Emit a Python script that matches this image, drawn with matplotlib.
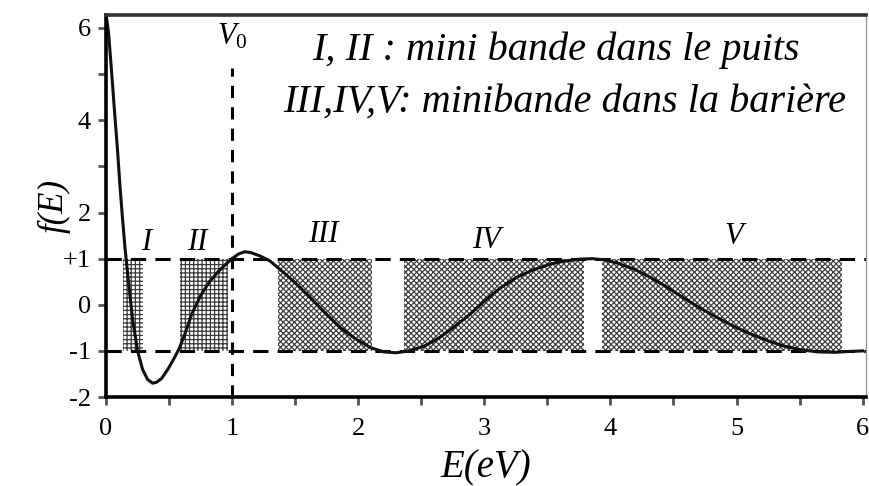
import matplotlib.pyplot as plt

plt.rcParams['font.family'] = ['Liberation Serif', 'DejaVu Serif']
plt.rcParams['mathtext.fontset'] = 'custom'
plt.rcParams['mathtext.rm'] = 'Liberation Serif'
plt.rcParams['mathtext.it'] = 'Liberation Serif:italic'
plt.rcParams['hatch.linewidth'] = 0.9

# f(E)
E = [0.0, 0.02, 0.04, 0.07, 0.09, 0.11, 0.13, 0.15, 0.18, 0.21, 0.25, 0.29,
     0.33, 0.37, 0.40, 0.44, 0.49, 0.54, 0.58, 0.63, 0.68, 0.75, 0.82, 0.89,
     0.95, 1.00, 1.05, 1.10, 1.15, 1.22, 1.30, 1.40, 1.50, 1.62, 1.74, 1.86,
     1.98, 2.10, 2.20, 2.30, 2.40, 2.52, 2.64, 2.76, 2.88, 3.00, 3.13, 3.26,
     3.39, 3.52, 3.64, 3.76, 3.86, 3.96, 4.06, 4.19, 4.32, 4.45, 4.58, 4.71,
     4.85, 4.98, 5.11, 5.24, 5.37, 5.50, 5.64, 5.78, 5.90, 6.0]
f = [6.3, 5.9, 5.2, 4.1, 3.4, 2.6, 1.9, 1.25, 0.45, -0.3, -1.0, -1.4,
     -1.62, -1.7, -1.68, -1.6, -1.4, -1.16, -0.95, -0.6, -0.2, 0.2, 0.5, 0.72,
     0.88, 1.0, 1.1, 1.15, 1.13, 1.06, 0.95, 0.72, 0.48, 0.16, -0.18, -0.5,
     -0.74, -0.93, -1.02, -1.04, -1.0, -0.9, -0.72, -0.48, -0.22, 0.08, 0.37, 0.6,
     0.76, 0.88, 0.95, 0.99, 1.0, 0.97, 0.9, 0.77, 0.59, 0.38, 0.15, -0.07,
     -0.28, -0.47, -0.63, -0.77, -0.89, -0.97, -1.02, -1.03, -1.01, -1.0]

# allowed minibands: (start, end) in eV
well_bands = [(0.135, 0.29), (0.59, 0.97)]
barrier_bands = [(1.36, 2.11), (2.36, 3.79), (3.93, 5.84)]
band_names = ['I', 'II', 'III', 'IV', 'V']
name_x = [0.32, 0.72, 1.72, 3.02, 4.98]
name_y = [1.35, 1.35, 1.52, 1.4, 1.48]

V0 = 1.0

fig = plt.figure(figsize=(8.69, 4.86), dpi=100)
ax = fig.add_axes([0.122, 0.183, 0.875, 0.786])

for a, b in well_bands:
    ax.fill_between([a, b], -1, 1, facecolor='white', edgecolor='#3a3a3a',
                    hatch='++++', linewidth=0)
for a, b in barrier_bands:
    ax.fill_between([a, b], -1, 1, facecolor='white', edgecolor='#404040',
                    hatch='xxxxxx', linewidth=0)

ax.plot([0, 6.03], [1, 1], color='black', lw=2.2, ls=(0, (5, 3)))
ax.plot([0, 6.03], [-1, -1], color='black', lw=2.2, ls=(0, (5, 3)))
ax.plot([V0, V0], [-2, 5.13], color='black', lw=2.2, ls=(0, (4, 3)))

ax.plot(E, f, color='#111111', lw=2.2)

for name, x, y in zip(band_names, name_x, name_y):
    ax.text(x, y, name, style='italic', fontsize=22, ha='center', va='center')

ax.text(V0, 5.5, r'$V_{\mathit{0}}$', fontsize=22, ha='center', va='bottom')
ax.text(3.57, 5.52, 'I, II : mini bande dans le puits', style='italic',
        fontsize=29, ha='center', va='center')
ax.text(3.64, 4.39, 'III,IV,V: minibande dans la barière', style='italic',
        fontsize=29, ha='center', va='center')

ax.set_xlim(0, 6.03)
ax.set_ylim(-2, 6.28)
ax.set_xticks([0, 1, 2, 3, 4, 5, 6])
ax.set_xticks([0.5, 1.5, 2.5, 3.5, 4.5, 5.5], minor=True)
ax.set_yticks([-2, -1, 0, 1, 2, 4, 6])
ax.set_yticklabels(['-2', '-1', '0', '+1', '2', '4', '6'])
ax.set_yticks([3, 5], minor=True)
ax.tick_params(which='both', direction='out', length=6, width=2,
               color='#555555', labelsize=19)
ax.tick_params(axis='x', pad=9)
ax.tick_params(axis='y', pad=5)

ax.set_xlabel('E(eV)', style='italic', fontsize=28, labelpad=7)
ax.set_ylabel('f(E)', style='italic', fontsize=25, labelpad=-6)

for side in ['left', 'bottom']:
    ax.spines[side].set_linewidth(2.6)
    ax.spines[side].set_color('black')
ax.spines['top'].set_linewidth(2.6)
ax.spines['top'].set_color('#333333')
ax.spines['right'].set_linewidth(1.0)
ax.spines['right'].set_color('#999999')

fig.savefig('out.png', dpi=100)
